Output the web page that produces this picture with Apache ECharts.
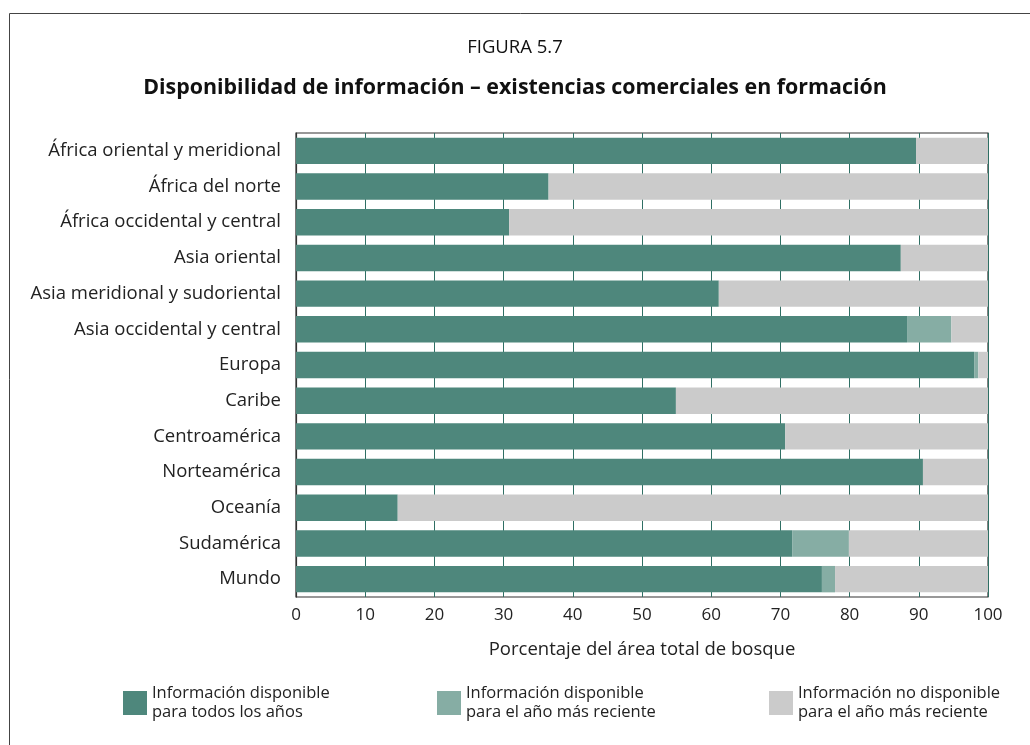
<!DOCTYPE html>
<html>
<head>
<meta charset="utf-8">
<script src="https://cdn.jsdelivr.net/npm/echarts@6/dist/echarts.min.js"></script>
<style>html,body{margin:0;padding:0;background:#fff;}#c{width:1030px;height:745px;}</style>
</head>
<body>
<div id="c"></div>
<script>
const categories = ['África oriental y meridional','África del norte','África occidental y central','Asia oriental','Asia meridional y sudoriental','Asia occidental y central','Europa','Caribe','Centroamérica','Norteamérica','Oceanía','Sudamérica','Mundo'];
const allYears = [89.6, 36.5, 30.8, 87.4, 61.1, 88.3, 98.0, 54.9, 70.7, 90.6, 14.7, 71.7, 76.0];
const recentYear = [0, 0, 0, 0, 0, 6.4, 0.6, 0, 0, 0, 0, 8.2, 1.9];
const notAvailable = [10.4, 63.5, 69.2, 12.6, 38.9, 5.3, 1.4, 45.1, 29.3, 9.4, 85.3, 20.1, 22.1];
const seriesNames = ['Información disponible\npara todos los años','Información disponible\npara el año más reciente','Información no disponible\npara el año más reciente'];
const xTicks = [0,10,20,30,40,50,60,70,80,90,100];

const FONT = '"Open Sans", sans-serif';
const colors = ['#4e877c','#86ada4','#cbcbcb'];
const chart = echarts.init(document.getElementById('c'), null, {renderer:'canvas'});
function legend(i, left){
  return {data:[seriesNames[i]], left:left, top:679, itemWidth:24, itemHeight:24, itemGap:6,
    textStyle:{fontFamily:FONT, fontSize:16.5, color:'#222', lineHeight:19}, selectedMode:false, icon:'rect'};
}
chart.setOption({
  animation:false,
  color:colors,
  title:[
    {text:'FIGURA 5.7', left:'center', top:33, textStyle:{fontFamily:FONT, fontWeight:'normal', fontSize:18.5, color:'#111'}},
    {text:'Disponibilidad de información – existencias comerciales en formación', left:'center', top:72, textStyle:{fontFamily:FONT, fontWeight:'bold', fontSize:21.4, color:'#111'}}
  ],
  legend:[legend(0,118), legend(1,432), legend(2,764)],
  grid:{left:296, right:42, top:133, bottom:148, show:true, borderColor:'#333', borderWidth:1.2},
  xAxis:{type:'value', min:0, max:100, interval:10,
    axisLabel:{fontFamily:FONT, fontSize:17, color:'#222', margin:10, formatter:function(v){return xTicks.indexOf(v) >= 0 ? String(v) : '';}},
    name:'Porcentaje del área total de bosque', nameLocation:'middle', nameGap:43,
    nameTextStyle:{fontFamily:FONT, fontSize:18.5, color:'#222'},
    axisLine:{show:false}, axisTick:{show:false},
    splitLine:{show:true, lineStyle:{color:'#2f6f64', width:1}}},
  yAxis:{type:'category', data:categories, inverse:true,
    axisLine:{show:true, lineStyle:{color:'#333', width:1.2}}, axisTick:{show:false},
    axisLabel:{fontFamily:FONT, fontSize:18.5, color:'#222', margin:15}},
  graphic:[{type:'rect', shape:{x:9.5, y:13.5, width:1100, height:800}, style:{fill:'none', stroke:'#444', lineWidth:1}, z:-10}],
  series:[
    {name:seriesNames[0], type:'bar', stack:'a', data:allYears, barCategoryGap:'26%'},
    {name:seriesNames[1], type:'bar', stack:'a', data:recentYear},
    {name:seriesNames[2], type:'bar', stack:'a', data:notAvailable}
  ]
});
</script>
</body>
</html>
